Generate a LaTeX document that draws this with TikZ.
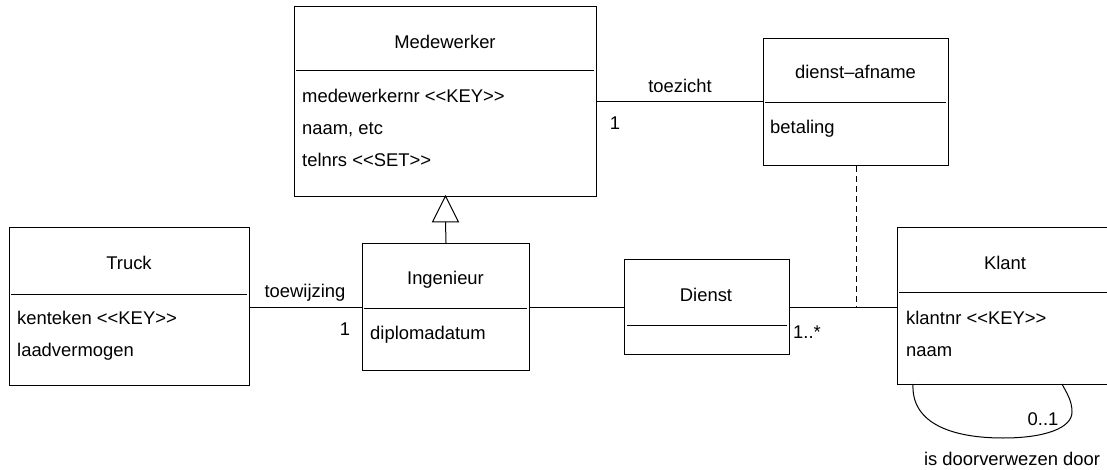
\documentclass[tikz,border=0pt]{standalone}
\usepackage{fontspec}
\setmainfont{Liberation Sans}
\begin{document}
\begin{tikzpicture}[x=1pt,y=-1pt,
  box/.style={draw,line width=1pt,rectangle,anchor=north west,inner sep=0pt},
  ttl/.style={anchor=base,inner sep=0pt},
  attr/.style={anchor=base west,inner sep=0pt},
  lbl/.style={anchor=base,inner sep=0pt},
  conn/.style={line width=1pt},
  every node/.append style={font=\fontsize{18.4}{22}\selectfont}]
\useasboundingbox (0,0) rectangle (1107,470);

% Medewerker
\node[box,minimum width=302,minimum height=190] (med) at (294,6) {};
\draw[line width=1pt] (296,71) -- (594,71);
\node[ttl] (medt) at (445,49) {Medewerker};
\node[attr] (meda1) at (302,103) {medewerkernr <{}<KEY>{}>};
\node[attr] (meda2) at (302,135) {naam, etc};
\node[attr] (meda3) at (302,167) {telnrs <{}<SET>{}>};

% dienst-afname
\node[box,minimum width=185,minimum height=127] (da) at (763,38) {};
\draw[line width=1pt] (765,103) -- (946,103);
\node[ttl] (dat) at (855.5,79) {dienst\textendash afname};
\node[attr] (daa1) at (770,134) {betaling};

% Truck
\node[box,minimum width=240,minimum height=158] (tr) at (9,227) {};
\draw[line width=1pt] (11,294) -- (247,294);
\node[ttl] (trt) at (129,269) {Truck};
\node[attr] (tra1) at (17,324) {kenteken <{}<KEY>{}>};
\node[attr] (tra2) at (17,356) {laadvermogen};

% Ingenieur
\node[box,minimum width=167,minimum height=127] (ing) at (362,243) {};
\draw[line width=1pt] (364,308) -- (527,308);
\node[ttl] (ingt) at (445.5,284) {Ingenieur};
\node[attr] (inga1) at (370,339) {diplomadatum};

% Dienst
\node[box,minimum width=165,minimum height=95] (di) at (624,259) {};
\draw[line width=1pt] (627,325) -- (787,325);
\node[ttl] (dit) at (706,301) {Dienst};

% Klant
\node[box,minimum width=216,minimum height=157] (kl) at (897,227) {};
\draw[line width=1pt] (899,292) -- (1111,292);
\node[ttl] (klt) at (1005,269) {Klant};
\node[attr] (kla1) at (906,324) {klantnr <{}<KEY>{}>};
\node[attr] (kla2) at (906,356) {naam};

% toezicht
\draw[conn] (med.east) -- (med.east -| da.west);
\node[lbl] (toez) at (680,92.7) {toezicht};
\node[lbl] (toez1) at (615,130) {1};

% toewijzing
\coordinate (trr) at (tr.east |- 0,307);
\draw[conn] (trr) -- (trr -| ing.west);
\node[lbl] (toew) at (305,297) {toewijzing};
\node[lbl] (toew1) at (345,335) {1};

% Ingenieur - Dienst - Klant
\coordinate (ingr) at (ing.east |- 0,307);
\draw[conn] (ingr) -- (ingr -| di.west);
\coordinate (dir) at (di.east |- 0,307);
\draw[conn] (dir) -- (dir -| kl.west);
\node[lbl] (mult) at (807,338) {1..*};

% association class dashed link
\draw[conn,dash pattern=on 6pt off 4pt] (da.south) -- (da.south |- dir);

% generalisation
\coordinate (gen) at (445.5,222);
\draw[conn] (ing.north) -- (gen);
\draw[conn,line join=miter] (432.5,222) -- (445.5,196) -- (458.5,222) -- cycle;

% self association on Klant
\coordinate (ls) at (913,384);
\coordinate (le) at (1062,384);
\draw[conn] (ls) .. controls (911,425) and (955,438) .. (1003,438)
  .. controls (1045,438) and (1072,428) .. (1072,412)
  .. controls (1072,400) and (1066,392) .. (le);
\node[lbl] (m01) at (1043,425) {0..1};
\node[lbl] (selfl) at (1012,465) {is doorverwezen door};
\end{tikzpicture}
\end{document}
